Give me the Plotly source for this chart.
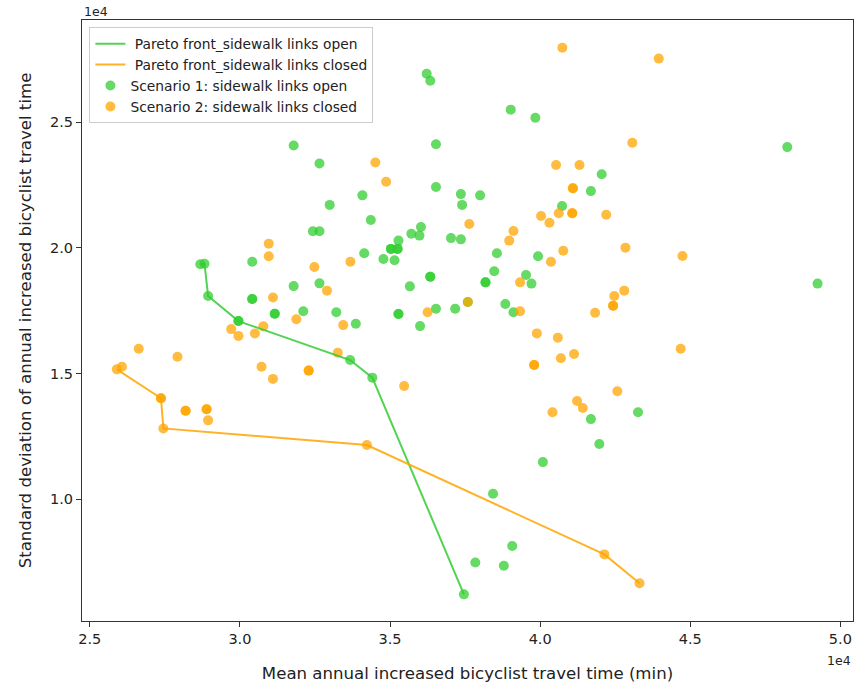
import plotly.graph_objects as go

# Scenario 1: sidewalk links open (mean, std) in 1e4 minutes units
open_x = [2.868, 2.882, 2.894, 2.995, 2.995, 3.367, 3.441, 3.746,
          3.179, 3.265, 3.243, 3.265, 3.041, 3.179, 3.041, 3.041, 3.116, 3.116,
          3.211, 3.265, 3.653, 3.653, 3.736, 3.800, 3.408, 3.740, 3.299, 3.436,
          3.603, 3.571, 3.598, 3.528, 3.503, 3.503, 3.525, 3.525, 3.703, 3.736,
          3.414, 3.478, 3.515, 3.856, 3.847, 3.818, 3.818, 3.634, 3.634, 3.566,
          3.321, 3.528, 3.528, 3.653, 3.717, 3.884, 3.911, 3.993, 3.953, 3.971,
          4.073, 3.759, 4.823, 4.205, 4.169, 4.924, 3.600, 3.386, 4.169, 4.326,
          4.197, 4.009, 3.843, 3.907, 3.784, 3.879, 3.622, 3.634, 3.902, 3.984]
open_y = [1.935, 1.937, 1.809, 1.709, 1.709, 1.554, 1.484, 0.622,
          2.407, 2.336, 2.066, 2.066, 1.945, 1.848, 1.797, 1.797, 1.738, 1.738,
          1.748, 1.859, 2.412, 2.242, 2.214, 2.209, 2.209, 2.171, 2.171, 2.111,
          2.083, 2.056, 2.049, 2.029, 1.996, 1.996, 1.996, 1.996, 2.039, 2.034,
          1.979, 1.956, 1.951, 1.979, 1.907, 1.863, 1.863, 1.885, 1.885, 1.847,
          1.744, 1.737, 1.737, 1.758, 1.758, 1.777, 1.744, 1.967, 1.892, 1.858,
          2.167, 1.785, 2.401, 2.293, 2.226, 1.858, 1.689, 1.698, 1.319, 1.346,
          1.220, 1.148, 1.022, 0.814, 0.749, 0.736, 2.693, 2.665, 2.550, 2.518]

# Scenario 2: sidewalk links closed
closed_x = [2.590, 2.737, 2.737, 2.745, 3.423, 4.214, 4.331,
            2.607, 3.096, 3.096, 3.248, 3.110, 3.451, 3.487, 3.764, 3.368, 3.290,
            3.625, 3.759, 4.053, 4.131, 4.109, 4.109, 4.107, 4.107, 4.062, 4.003,
            4.031, 3.911, 3.897, 4.077, 4.036, 3.933, 3.933, 4.074, 4.395, 4.307,
            4.220, 4.284, 4.474, 4.280, 4.247, 4.243, 4.243, 4.183, 3.989, 4.059,
            4.069, 4.113, 3.980, 3.980, 4.468, 4.257, 4.123, 4.142, 4.041, 3.188,
            3.344, 2.971, 2.995, 3.050, 3.078, 2.663, 2.792, 3.326, 3.072, 3.110,
            3.229, 3.229, 3.547, 2.819, 2.819, 2.889, 2.889, 2.894]
closed_y = [1.517, 1.402, 1.402, 1.282, 1.216, 0.781, 0.666,
            1.527, 2.017, 1.967, 1.924, 1.803, 2.340, 2.263, 2.095, 1.945, 1.830,
            1.744, 1.785, 2.330, 2.330, 2.237, 2.237, 2.138, 2.138, 2.138, 2.127,
            2.100, 2.067, 2.029, 1.989, 1.945, 1.863, 1.748, 2.796, 2.753, 2.418,
            2.132, 2.001, 1.968, 1.830, 1.809, 1.770, 1.770, 1.742, 1.660, 1.643,
            1.561, 1.578, 1.534, 1.534, 1.599, 1.430, 1.391, 1.363, 1.346, 1.716,
            1.693, 1.677, 1.650, 1.660, 1.688, 1.599, 1.567, 1.583, 1.527, 1.479,
            1.512, 1.512, 1.451, 1.352, 1.352, 1.358, 1.358, 1.314]

# Pareto fronts
pareto_open_x = [2.868, 2.882, 2.894, 2.995, 3.367, 3.441, 3.746]
pareto_open_y = [1.935, 1.937, 1.809, 1.709, 1.554, 1.484, 0.622]
pareto_closed_x = [2.590, 2.737, 2.745, 3.423, 4.214, 4.331]
pareto_closed_y = [1.517, 1.402, 1.282, 1.216, 0.781, 0.666]

x_ticks = [2.5, 3.0, 3.5, 4.0, 4.5, 5.0]
x_tick_labels = ["2.5", "3.0", "3.5", "4.0", "4.5", "5.0"]
y_ticks = [1.0, 1.5, 2.0, 2.5]
y_tick_labels = ["1.0", "1.5", "2.0", "2.5"]

S = 1e4
sc = lambda a: [v * S for v in a]

GREEN_PT = "rgba(50,205,50,0.75)"
ORANGE_PT = "rgba(255,165,0,0.75)"
GREEN_LN = "rgba(50,205,50,0.85)"
ORANGE_LN = "rgba(255,165,0,0.85)"
FONT = "DejaVu Sans"
TXT = "#222"

fig = go.Figure()
fig.add_trace(go.Scatter(x=sc(open_x), y=sc(open_y), mode="markers",
                         name="Scenario 1: sidewalk links open", legendrank=3,
                         marker=dict(size=10, color=GREEN_PT, line=dict(width=0))))
fig.add_trace(go.Scatter(x=sc(closed_x), y=sc(closed_y), mode="markers",
                         name="Scenario 2: sidewalk links closed", legendrank=4,
                         marker=dict(size=10, color=ORANGE_PT, line=dict(width=0))))
fig.add_trace(go.Scatter(x=sc(pareto_open_x), y=sc(pareto_open_y), mode="lines",
                         name=" Pareto front_sidewalk links open", legendrank=1,
                         line=dict(color=GREEN_LN, width=2)))
fig.add_trace(go.Scatter(x=sc(pareto_closed_x), y=sc(pareto_closed_y), mode="lines",
                         name=" Pareto front_sidewalk links closed", legendrank=2,
                         line=dict(color=ORANGE_LN, width=2)))

axis_common = dict(showline=True, mirror=True, linecolor="#333", linewidth=1,
                   ticks="outside", ticklen=5, tickwidth=1, tickcolor="#333",
                   showgrid=False, zeroline=False, automargin=False,
                   tickfont=dict(family=FONT, size=14.5, color=TXT))

fig.update_xaxes(range=[24740, 50420], tickvals=sc(x_ticks), ticktext=x_tick_labels,
                 title=dict(text="Mean annual increased bicyclist travel time (min)",
                            font=dict(family=FONT, size=16.6, color=TXT), standoff=20),
                 **axis_common)
fig.update_yaxes(range=[5160, 29065], tickvals=sc(y_ticks), ticktext=y_tick_labels,
                 title=dict(text="Standard deviation of annual increased bicyclist travel time",
                            font=dict(family=FONT, size=16.6, color=TXT), standoff=14),
                 **axis_common)

fig.add_annotation(text="1e4", xref="paper", yref="paper", x=0, y=1,
                   xanchor="left", yanchor="bottom", showarrow=False, yshift=-1,
                   font=dict(family=FONT, size=12.5, color=TXT))
fig.add_annotation(text="1e4", xref="paper", yref="paper", x=1, y=0,
                   xanchor="right", yanchor="top", showarrow=False, yshift=-30,
                   font=dict(family=FONT, size=12.5, color=TXT))

fig.update_layout(
    width=855, height=685,
    margin=dict(l=82, r=2, t=20, b=64, autoexpand=False),
    plot_bgcolor="white", paper_bgcolor="white",
    font=dict(family=FONT, size=14, color=TXT),
    legend=dict(x=0.0096, y=0.988, xanchor="left", yanchor="top",
                bgcolor="rgba(255,255,255,0.8)", bordercolor="#ccc", borderwidth=1,
                font=dict(family=FONT, size=13.8, color=TXT), itemwidth=30),
)

fig.write_html("out.html", config={"displayModeBar": False},
               post_script="document.body.style.margin='0';document.body.style.overflow='hidden';")
